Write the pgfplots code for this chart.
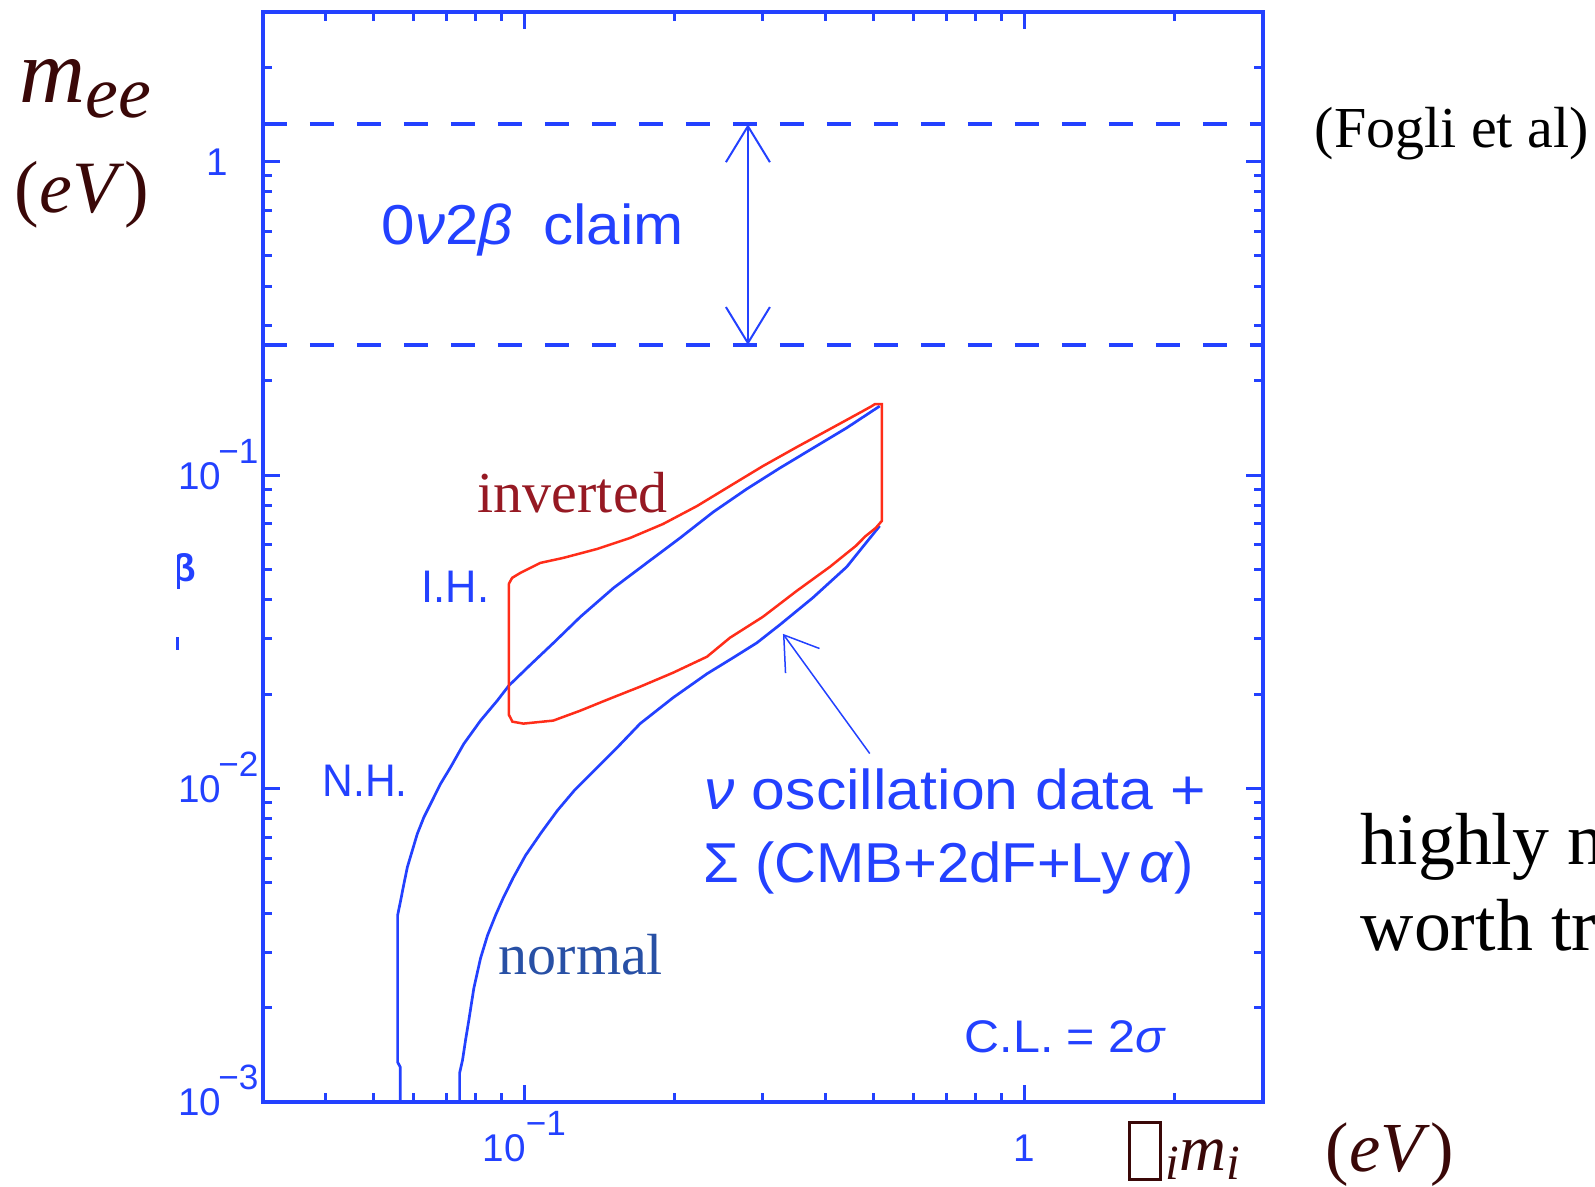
\documentclass[border=0pt]{standalone}
\usepackage{fontspec}
\setmainfont{Liberation Serif}
\newfontfamily\tsans{Liberation Sans}
\usepackage{graphicx}
\usepackage{pgfplots}
\pgfplotsset{compat=1.18}
\usetikzlibrary{arrows.meta}
\definecolor{pb}{RGB}{35,65,255}
\definecolor{pr}{RGB}{255,45,25}
\definecolor{maroon}{RGB}{58,8,8}
\definecolor{inv}{RGB}{150,25,35}
\definecolor{nrm}{RGB}{40,80,165}
\newcommand{\tsup}[1]{\raisebox{2.6mm}{\fontsize{10}{10}\selectfont −#1}}
\newcommand{\ysup}[1]{\rlap{\kern-0.3mm\tsup{#1}}}
\begin{document}
\begin{tikzpicture}
\useasboundingbox (0,0) rectangle (159.5mm,118.7mm);
\begin{axis}[
  at={(26.3mm,8.5mm)}, anchor=south west, scale only axis,
  width=100mm, height=109mm,
  xmode=log, ymode=log,
  xmin=0.03, xmax=3, ymin=0.001, ymax=3,
  axis line style={pb, line width=0.45mm},
  tick style={pb, line width=0.3mm},
  major tick length=1.7mm, minor tick length=0.9mm,
  tick pos=both, tick align=inside,
  xtick={0.1,1}, xticklabels={10\tsup{1},1},
  minor xtick={0.04,0.05,0.06,0.07,0.08,0.09,0.2,0.3,0.4,0.5,0.6,0.7,0.8,0.9,2},
  ytick={0.001,0.01,0.1,1},
  yticklabels={10\ysup{3},10\ysup{2},10\ysup{1},1\kern-0.7mm},
  minor ytick={0.002,0.003,0.004,0.005,0.006,0.007,0.008,0.009,0.02,0.03,0.04,0.05,0.06,0.07,0.08,0.09,0.2,0.3,0.4,0.5,0.6,0.7,0.8,0.9,2},
  xticklabel style={anchor=base, yshift=-6mm, inner sep=0pt, font=\tsans\fontsize{11}{11}\selectfont, text=pb},
  yticklabel style={anchor=base east, xshift=-4.1mm, yshift=-1.4mm, inner sep=0pt, font=\tsans\fontsize{11}{11}\selectfont, text=pb},
]
% upper blue curve (N.H. / I.H. envelope)
\addplot[pb, line width=0.27mm] coordinates {
(0.05643,0.001) (0.05643,0.001293) (0.05577,0.001341) (0.05577,0.003939)
(0.05656,0.004398) (0.05742,0.004972) (0.05833,0.005616) (0.05968,0.006345)
(0.06106,0.007171) (0.06295,0.008102) (0.06541,0.009158) (0.06796,0.01035)
(0.07116,0.01169) (0.07564,0.01388) (0.08170,0.01647) (0.08822,0.01906)
(0.09305,0.02128) (0.1028,0.02482) (0.1144,0.02917) (0.1294,0.03530)
(0.1508,0.04366) (0.1757,0.05245) (0.2048,0.06300) (0.2386,0.07623)
(0.2783,0.09024) (0.3243,0.1053) (0.3778,0.1219) (0.4405,0.1412) (0.5135,0.1659)
};
% lower blue curve
\addplot[pb, line width=0.27mm] coordinates {
(0.0742,0.001) (0.0742,0.001237) (0.07521,0.001361) (0.07626,0.001576)
(0.07742,0.001824) (0.07923,0.002307) (0.08170,0.002874) (0.08437,0.003401)
(0.08753,0.003939) (0.09081,0.004496) (0.09506,0.005207) (0.1005,0.006116)
(0.1081,0.007243) (0.1164,0.008509) (0.1258,0.009854) (0.1398,0.01166)
(0.1533,0.01351) (0.1704,0.01611) (0.1983,0.01949) (0.2318,0.02323)
(0.2615,0.02614) (0.2918,0.02917) (0.3243,0.03330) (0.3773,0.04058)
(0.4411,0.05093) (0.4749,0.05896) (0.5135,0.06881)
};
% red contour (inverted)
\addplot[pr, line width=0.25mm] coordinates {
(0.09305,0.04496) (0.09450,0.04699) (0.09817,0.04874) (0.1076,0.05245)
(0.1196,0.05441) (0.1398,0.05811) (0.1627,0.06300) (0.1894,0.06981)
(0.2214,0.07965) (0.2577,0.09226) (0.2999,0.1068) (0.3506,0.1228)
(0.4081,0.1401) (0.4749,0.1599) (0.4951,0.1659) (0.5020,0.1683)
(0.5185,0.1683) (0.5185,0.07138) (0.5043,0.06781) (0.4816,0.06393)
(0.4600,0.05941) (0.4081,0.05093) (0.3506,0.04272) (0.2999,0.03530)
(0.2577,0.03027) (0.2318,0.02633) (0.1983,0.02341) (0.1704,0.02113)
(0.1464,0.01920) (0.1294,0.01772) (0.1142,0.01647) (0.09954,0.01611)
(0.09463,0.01634) (0.09305,0.01721) (0.09305,0.04496)
};
% 0nu2beta claim band
\addplot[pb, line width=0.4mm, dash pattern=on 2.4mm off 2.3mm] coordinates {(0.03,1.315) (3,1.315)};
\addplot[pb, line width=0.4mm, dash pattern=on 2.4mm off 2.3mm] coordinates {(0.03,0.26) (3,0.26)};
\addplot[pb, line width=0.2mm, {Straight Barb[length=3.6mm,width=4.4mm]}-{Straight Barb[length=3.6mm,width=4.4mm]}] coordinates {(0.2799,1.315) (0.2799,0.26)};
% pointer arrow
\addplot[pb, line width=0.15mm, -{Straight Barb[length=3.2mm,width=4.2mm]}] coordinates {(0.4905,0.01293) (0.3289,0.03115)};
\end{axis}
\begin{scope}[x=0.1mm,y=0.1mm]
% plot annotations
\node[anchor=base west, inner sep=0, text=pb, font=\tsans\fontsize{16}{16}\selectfont] at (381,942) {\scalebox{1.07}[1]{0\textit{ν}2\textit{β}\hspace{0.5em}claim}};
\node[anchor=base west, inner sep=0, text=pb, font=\tsans\fontsize{13}{13}\selectfont] at (421,584) {\scalebox{0.95}[1]{I.H.}};
\node[anchor=base west, inner sep=0, text=pb, font=\tsans\fontsize{13}{13}\selectfont] at (322,390) {\scalebox{0.93}[1]{N.H.}};
\node[anchor=base west, inner sep=0, text=pb, font=\tsans\fontsize{16}{16}\selectfont] at (704,377) {\scalebox{1.08}[1]{\textit{ν} oscillation data +}};
\node[anchor=base west, inner sep=0, text=pb, font=\tsans\fontsize{16}{16}\selectfont] at (703,304) {\scalebox{1.03}[1]{Σ (CMB+2dF+Ly\,\textit{α})}};
\node[anchor=base west, inner sep=0, text=pb, font=\tsans\fontsize{13}{13}\selectfont] at (964,134) {\scalebox{1.06}[1]{C.L. = 2\textit{σ}}};
% fragments of a hidden label
\begin{scope}
\clip (177,560) rectangle (200,640);
\node[anchor=base east, inner sep=0, text=pb, font=\tsans\bfseries\fontsize{11}{11}\selectfont] at (197,605) {β};
\end{scope}
\fill[pb] (176,537) rectangle (179,550);
% slide texts
\node[anchor=base west, inner sep=0, text=maroon, font=\fontsize{26}{26}\selectfont\itshape] at (19,1084) {m\raisebox{-1.5mm}{\fontsize{21}{21}\selectfont ee}};
\node[anchor=base west, inner sep=0, text=maroon, font=\fontsize{21}{21}\selectfont] at (14,974) {(\textit{eV\/})};
\node[anchor=base west, inner sep=0, text=black, font=\fontsize{16.5}{16.5}\selectfont] at (1314,1039) {(Fogli et al)};
\node[anchor=base west, inner sep=0, text=black, font=\fontsize{21}{21}\selectfont] at (1360,322) {highly n};
\node[anchor=base west, inner sep=0, text=black, font=\fontsize{21}{21}\selectfont] at (1360,236) {worth tr};
\node[anchor=base west, inner sep=0, text=inv, font=\fontsize{16.5}{16.5}\selectfont] at (477,674) {inverted};
\node[anchor=base west, inner sep=0, text=nrm, font=\fontsize{16.5}{16.5}\selectfont] at (498,212) {normal};
% x axis label
\draw[maroon, line width=0.3mm] (1129.5,7.5) rectangle (1160.5,64.5);
\node[anchor=base west, inner sep=0, text=maroon, font=\fontsize{14}{14}\selectfont\itshape] at (1165,7) {i};
\node[anchor=base west, inner sep=0, text=maroon, font=\fontsize{18.5}{18.5}\selectfont\itshape] at (1179,16) {m};
\node[anchor=base west, inner sep=0, text=maroon, font=\fontsize{14}{14}\selectfont\itshape] at (1226,7) {i};
\node[anchor=base west, inner sep=0, text=maroon, font=\fontsize{20}{20}\selectfont] at (1325,15) {(\textit{eV\/})};
\end{scope}
\end{tikzpicture}
\end{document}
